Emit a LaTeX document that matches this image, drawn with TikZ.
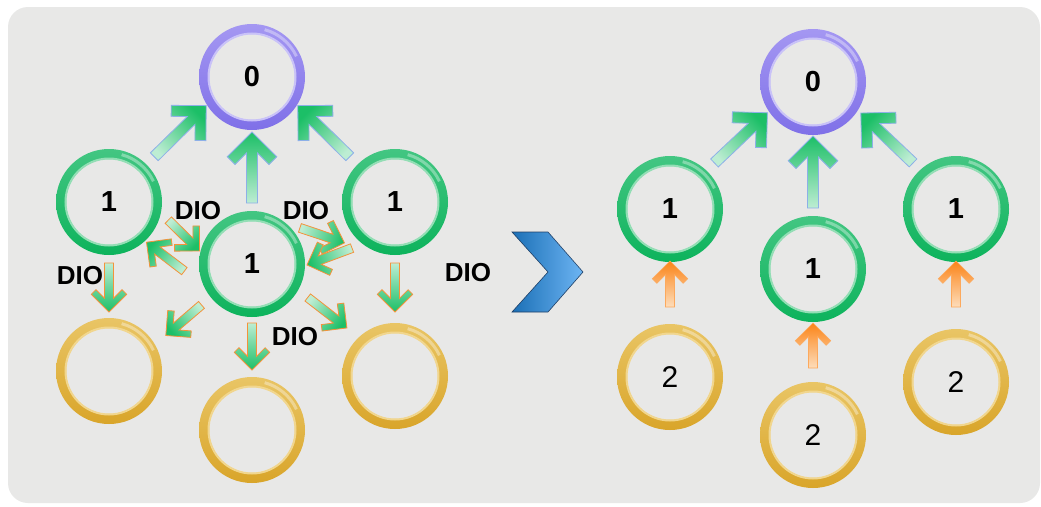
\documentclass[tikz,border=0pt]{standalone}
\usepackage{fontspec}
\setmainfont{Liberation Sans}
\usetikzlibrary{calc}

\definecolor{bgcol}{HTML}{E8E8E7}
\definecolor{purptop}{HTML}{A497F2}
\definecolor{purpbot}{HTML}{7F70E8}
\definecolor{purplite}{HTML}{C9C2F8}
\definecolor{grntop}{HTML}{43C682}
\definecolor{grnbot}{HTML}{0DB35C}
\definecolor{grnlite}{HTML}{93DEB5}
\definecolor{goldtop}{HTML}{E9C565}
\definecolor{goldbot}{HTML}{D9A52A}
\definecolor{goldlite}{HTML}{F1D68E}
\definecolor{arhead}{HTML}{1CBF67}
\definecolor{artail}{HTML}{BDEDD3}
\definecolor{arblue}{HTML}{8DB0E8}
\definecolor{arorange}{HTML}{F4923A}
\definecolor{orhead}{HTML}{FB8418}
\definecolor{ortail}{HTML}{FDDDBB}
\definecolor{chevdark}{HTML}{1B6FB6}
\definecolor{chevlite}{HTML}{6DB5F3}
\definecolor{chevedge}{HTML}{1F3F66}

\tikzset{
  ring/.style={circle, minimum size=106pt, inner sep=0pt, outer sep=0pt,
    font=\fontsize{29}{29}\selectfont\bfseries,
    path picture={
      \shade[top color=#1top, bottom color=#1bot, even odd rule]
        (path picture bounding box.center) circle (53pt) circle (43pt);
      \draw[#1lite, line width=2pt] (path picture bounding box.center) circle (43.5pt);
      \draw[white, opacity=.35, line width=3pt] (path picture bounding box.center)
        ++(25:49pt) arc[start angle=25, end angle=75, radius=49pt];
    }},
  arsize/.code args={#1/#2/#3}{\def\arlen{#1}\def\arthk{#2}\def\arsh{#3}},
  bigar/.style={arsize=35/11/5.5, top color=arhead, bottom color=artail,
    draw=arblue, line width=0.8pt},
  dioar/.style={arsize=25/6.5/4.5, top color=arhead, bottom color=artail,
    draw=arorange, line width=0.8pt},
  orar/.style={arsize=25/6.5/4.5, top color=orhead, bottom color=ortail,
    draw=orhead!70!white, line width=0.6pt},
  diolabel/.style={inner sep=0pt, font=\fontsize{26}{26}\selectfont\bfseries},
}

% block arrow: [style]{from node}{angle}{radius}{to node}{angle}{radius}
\newcommand\blockarrow[7][bigar]{%
  \begin{scope}[#1]
  \coordinate (ta) at ($(#2.center)!#4pt!(#2.#3)$);
  \coordinate (hd) at ($(#5.center)!#7pt!(#5.#6)$);
  \pgfmathanglebetweenpoints{\pgfpointanchor{ta}{center}}{\pgfpointanchor{hd}{center}}%
  \pgfmathsetmacro\arang{\pgfmathresult-90}%
  \pgfmathsetlengthmacro\hda{\arlen/sqrt(2)}%
  \pgfmathsetlengthmacro\hdb{(\arlen+\arthk)/sqrt(2)}%
  \pgfmathsetlengthmacro\hdc{(\arlen-\arthk)/sqrt(2)}%
  \pgfmathsetlengthmacro\hdd{\arsh+\arthk*sqrt(2)}%
  \coordinate (a1) at ($(hd)!\hda!(ta)$);
  \coordinate (a2) at ($(hd)!\hdb!(ta)$);
  \coordinate (a3) at ($(hd)!\hdd!(ta)$);
  \shadedraw[shading angle=\arang, line join=miter]
    (hd) -- ($(a1)!\hda!90:(ta)$) -- ($(a2)!\hdc!90:(ta)$) -- ($(a3)!\arsh pt!90:(ta)$)
    -- ($(ta)!\arsh pt!-90:(hd)$) -- ($(ta)!\arsh pt!90:(hd)$)
    -- ($(a3)!\arsh pt!-90:(ta)$) -- ($(a2)!\hdc!-90:(ta)$) -- ($(a1)!\hda!-90:(ta)$) -- cycle;
  \end{scope}}

\begin{document}
\begin{tikzpicture}[x=1pt, y=-1pt]
\useasboundingbox (0,0) rectangle (1041,506);
\fill[white] (0,0) rectangle (1041,506);
\fill[bgcol, rounded corners=20pt] (8,7) rectangle (1040,503);

% before
\node[ring=purp] (rootA) at (252,77) {0};
\node[ring=grn] (leftA) at (109,202) {1};
\node[ring=grn] (midA) at (252,264) {1};
\node[ring=grn] (rightA) at (395,202) {1};
\node[ring=gold] (lowlA) at (109,371) {};
\node[ring=gold] (lowmA) at (252,430) {};
\node[ring=gold] (lowrA) at (395,376) {};

\blockarrow[bigar]{leftA}{45}{64}{rootA}{212}{54}
\blockarrow[bigar]{midA}{90}{61}{rootA}{270}{55}
\blockarrow[bigar]{rightA}{135}{64}{rootA}{328}{54}
\blockarrow[dioar]{leftA}{270}{61}{lowlA}{90}{59}
\blockarrow[dioar]{rightA}{270}{61}{lowrA}{90}{64}
\blockarrow[dioar]{midA}{186}{68}{leftA}{313}{55}
\blockarrow[dioar]{leftA}{343}{62}{midA}{166}{54}
\blockarrow[dioar]{midA}{37}{60}{rightA}{219}{65}
\blockarrow[dioar]{rightA}{227}{63}{midA}{359}{55}
\blockarrow[dioar]{midA}{219}{65}{lowlA}{32}{67}
\blockarrow[dioar]{midA}{270}{59}{lowmA}{90}{60}
\blockarrow[dioar]{midA}{329}{65}{lowrA}{135}{68}

\node[diolabel] (dioa) at (198,211) {DIO};
\node[diolabel] (diob) at (306,211) {DIO};
\node[diolabel] (dioc) at (80,276) {DIO};
\node[diolabel] (diod) at (295,337) {DIO};
\node[diolabel] (dioe) at (468,273) {DIO};

% chevron
\shadedraw[left color=chevdark, right color=chevlite, draw=chevedge, line width=0.6pt]
  (512,232) -- (548,232) -- (583,272) -- (548,312) -- (512,312) -- (548,272) -- cycle;

% after
\node[ring=purp] (rootB) at (813,82) {0};
\node[ring=grn] (leftB) at (670,209) {1};
\node[ring=grn] (midB) at (813,269) {1};
\node[ring=grn] (rightB) at (956,209) {1};
\node[ring=gold, font=\fontsize{30}{30}\selectfont] (lowlB) at (670,377) {2};
\node[ring=gold, font=\fontsize{30}{30}\selectfont] (lowmB) at (813,435) {2};
\node[ring=gold, font=\fontsize{30}{30}\selectfont] (lowrB) at (956,382) {2};

\blockarrow[bigar]{leftB}{46}{64}{rootB}{214}{55}
\blockarrow[bigar]{midB}{90}{61}{rootB}{270}{54}
\blockarrow[bigar]{rightB}{133}{63}{rootB}{327}{57}
\blockarrow[orar]{lowlB}{90}{70}{leftB}{270}{52}
\blockarrow[orar]{lowmB}{90}{67}{midB}{270}{54}
\blockarrow[orar]{lowrB}{90}{75}{rightB}{270}{52}
\end{tikzpicture}
\end{document}
